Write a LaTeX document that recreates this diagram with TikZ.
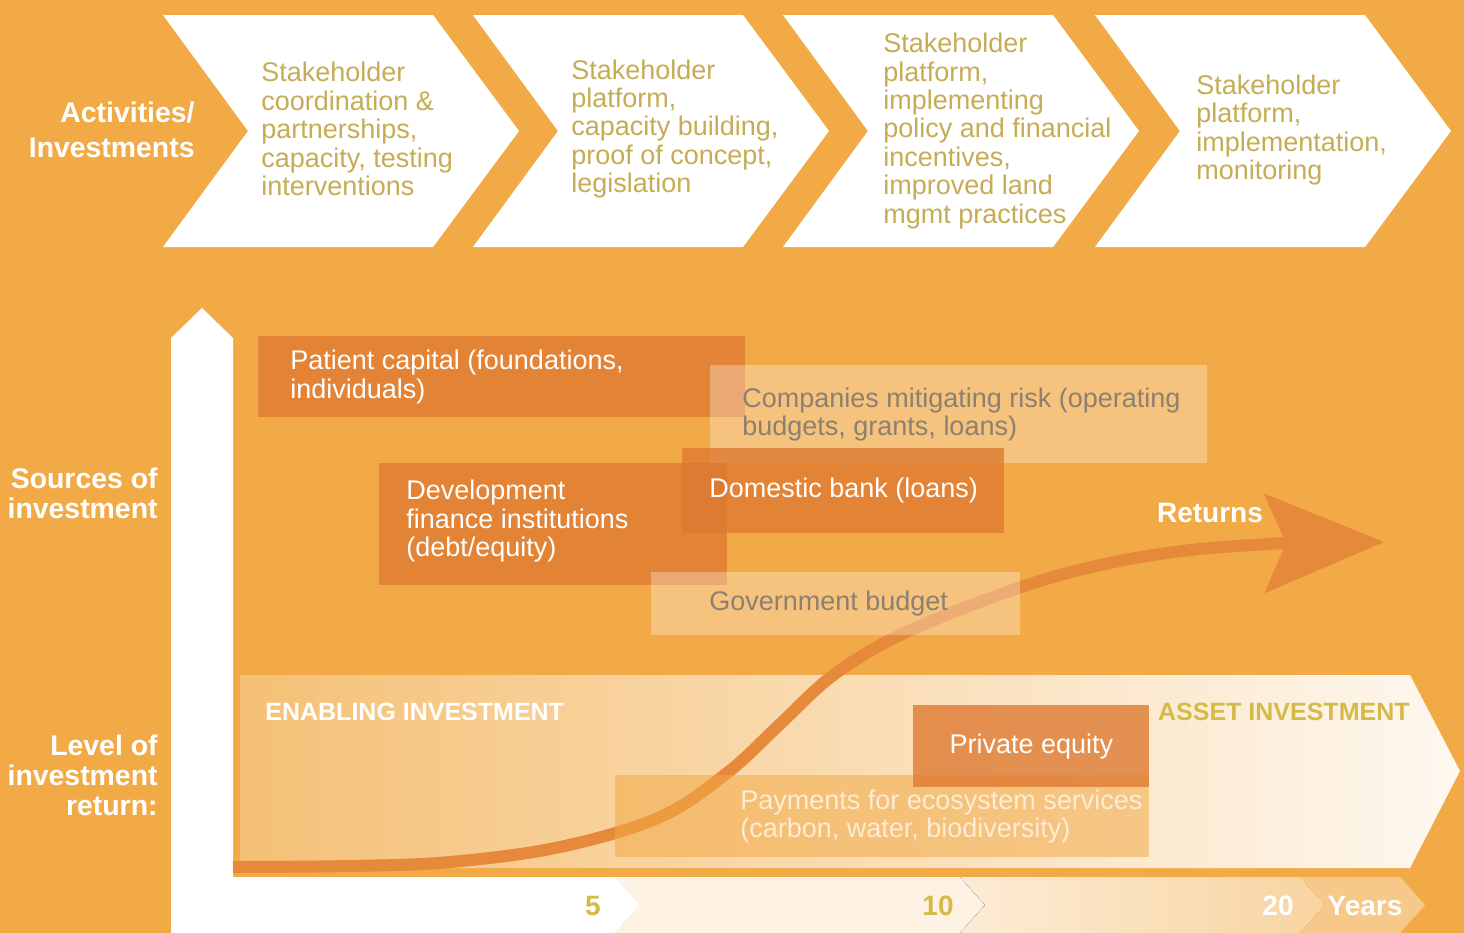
\documentclass[tikz,border=0pt]{standalone}
\usepackage{fontspec}
\setmainfont{Liberation Sans}
\usepackage{tikz}
\usetikzlibrary{arrows.meta,calc,positioning}
\definecolor{bgorange}{RGB}{242,170,71}
\definecolor{boxdark}{RGB}{222,122,50}
\definecolor{curveorange}{RGB}{231,137,58}
\definecolor{goldtext}{RGB}{198,172,84}
\definecolor{goldbold}{RGB}{214,186,72}
\definecolor{greytext}{RGB}{140,128,112}
\definecolor{paletext}{RGB}{252,236,212}
\definecolor{bandL}{RGB}{245,192,118}
\definecolor{bandR}{RGB}{254,248,240}

\begin{document}
\begin{tikzpicture}[x=0.5pt,y=-0.5pt,align=left,
    stepbox/.style={fill=white},
    steptext/.style={anchor=west,inner sep=0pt,text=goldtext,font=\fontsize{13.5}{14.2}\selectfont},
    sidelabel/.style={anchor=east,align=right,inner sep=0pt,text=white,font=\bfseries\fontsize{14.2}{15}\selectfont},
    darksrc/.style={anchor=north west,inner sep=0pt,fill=boxdark,fill opacity=0.8},
    lightsrc/.style={anchor=north west,inner sep=0pt,fill=white,fill opacity=0.3},
    tintsrc/.style={anchor=north west,inner sep=0pt,fill=bgorange,fill opacity=0.55},
    srctext/.style={inner sep=0pt,font=\fontsize{13.5}{14.2}\selectfont},
    bandtitle/.style={inner sep=0pt,font=\bfseries\fontsize{12.5}{14}\selectfont},
    yearlabel/.style={inner sep=0pt,font=\bfseries\fontsize{14}{16}\selectfont},
    yearB/.style={fill={rgb,255:red,253;green,242;blue,228}},
    yearC/.style={left color={rgb,255:red,252;green,236;blue,214},right color={rgb,255:red,248;green,212;blue,160}},
    yearD/.style={fill={rgb,255:red,246;green,200;blue,138}}]

\fill[bgorange] (0,0) rectangle (1464,933);
\useasboundingbox (0,0) rectangle (1464,933);

% activities
\foreach \x in {163,473,783,1095}
  \fill[stepbox] (\x,15) -- ++(270,0) -- ++(86,116) -- ++(-86,116) -- ++(-270,0) -- ++(85,-116) -- cycle;

\node[sidelabel,font=\bfseries\fontsize{14.2}{17.5}\selectfont] (actlabel) at (195,130) {Activities/\\Investments};
\node[steptext] (step1) at (261,129) {Stakeholder\\coordination \&\\partnerships,\\capacity, testing\\interventions};
\node[steptext] (step2) at (571,129) {Stakeholder\\platform,\\capacity building,\\proof of concept,\\legislation};
\node[steptext] (step3) at (883,131) {Stakeholder\\platform,\\implementing\\policy and financial\\incentives,\\improved land\\mgmt practices};
\node[steptext] (step4) at (1196,130) {Stakeholder\\platform,\\implementation,\\monitoring};

\node[sidelabel] (srclabel) at (158,493) {Sources of\\investment};
\node[sidelabel] (retlabel) at (158,775) {Level of\\investment\\return:};

% axis and years
\fill[white] (171,933) -- (171,338) -- (202,308) -- (233,338) -- (233,933) -- cycle;
\fill[white] (171,877) -- (615,877) -- ++(25,28) -- ++(-25,28) -- (171,933) -- cycle;
\foreach \a/\b/\c in {615/960/yearB,960/1300/yearC,1300/1400/yearD}
  \fill[\c] (\a,877) -- (\b,877) -- ++(25,28) -- ++(-25,28) -- (\a,933) -- ++(25,-28) -- cycle;

\node[yearlabel,text=goldbold] (yr5) at (593,906) {5};
\node[yearlabel,text=goldbold] (yr10) at (938,906) {10};
\node[yearlabel,text=white] (yr20) at (1278,906) {20};
\node[yearlabel,text=white] (years) at (1365,906) {Years};

% level of return
\shade[left color=bandL,right color=bandR] (240,675) -- (1410,675) -- (1460,771) -- (1410,868) -- (240,868) -- cycle;
\node[bandtitle,text=white,anchor=west] (enabling) at (265,712) {ENABLING INVESTMENT};
\node[bandtitle,text=goldbold,anchor=east] (asset) at (1410,712) {ASSET INVESTMENT};

\coordinate (rstart) at (233,867);
\coordinate (rtip) at (1384,542);
\draw[curveorange,line width=6pt,-{Stealth[length=60pt,width=50pt,inset=11pt,line width=0.5pt]}]
  plot[smooth,tension=0.6] coordinates {(rstart) (350,866) (450,862) (560,847) (660,817) (727,773) (777,727) (827,680) (877,647) (927,623) (993,597) (1060,575) (1130,559) (1200,549) (1285,543)} -- (rtip);
\node[yearlabel,text=white] (returns) at (1210,513) {Returns};

% sources
\node[darksrc,minimum width=243.5pt,minimum height=40.5pt] (patient) at (258,336) {};
\node[srctext,text=white,right=16pt of patient.west] (patientT) {Patient capital (foundations,\\individuals)};
\node[lightsrc,minimum width=248.5pt,minimum height=49pt] (company) at (710,365) {};
\node[srctext,text=greytext,right=16pt of company.west] (companyT) {Companies mitigating risk (operating\\budgets, grants, loans)};
\node[darksrc,minimum width=174pt,minimum height=61pt] (dfi) at (379,463) {};
\node[srctext,text=white,right=13.5pt of dfi.west,yshift=1.5pt] (dfiT) {Development\\finance institutions\\(debt/equity)};
\node[darksrc,minimum width=161pt,minimum height=42.5pt] (bank) at (682,448) {};
\node[srctext,text=white,right=13.5pt of bank.west] (bankT) {Domestic bank (loans)};
\node[lightsrc,minimum width=184.5pt,minimum height=31.5pt] (gov) at (651,572) {};
\node[srctext,text=greytext,right=29pt of gov.west] (govT) {Government budget};
\node[tintsrc,minimum width=267pt,minimum height=41pt] (pes) at (615,775) {};
\node[srctext,text=paletext,right=62.5pt of pes.west] (pesT) {Payments for ecosystem services\\(carbon, water, biodiversity)};
\node[darksrc,minimum width=118pt,minimum height=41pt] (equity) at (913,705) {};
\node[srctext,text=white] (equityT) at (equity.center) {Private equity};
\end{tikzpicture}
\end{document}
